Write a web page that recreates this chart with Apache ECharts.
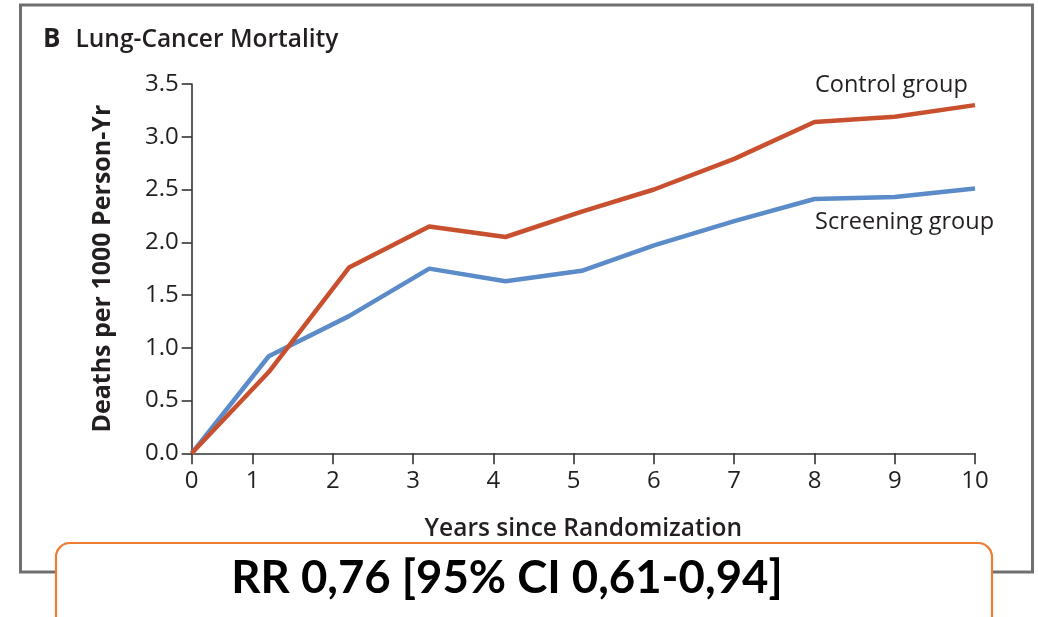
<!DOCTYPE html>
<html>
<head>
<meta charset="utf-8">
<script src="https://cdn.jsdelivr.net/npm/echarts@6/dist/echarts.min.js"></script>
<style>
html,body{margin:0;padding:0;background:#fff;}
#chart{width:1038px;height:617px;}
</style>
</head>
<body>
<div id="chart"></div>
<script>
// ---- data ----
const years = [0, 1.2, 2.2, 3.2, 4.15, 5.1, 6, 7, 8, 9, 10];
const screening = [0, 0.92, 1.30, 1.75, 1.63, 1.73, 1.97, 2.20, 2.41, 2.43, 2.51];
const control   = [0, 0.77, 1.76, 2.15, 2.05, 2.29, 2.50, 2.79, 3.14, 3.19, 3.30];
const xTicks = [0, 1, 2, 3, 4, 5, 6, 7, 8, 9, 10];
const titleText = 'Lung-Cancer Mortality';
const panelLetter = 'B';
const yName = 'Deaths per 1000 Person-Yr';
const xName = 'Years since Randomization';
const seriesNames = ['Screening group', 'Control group'];
const rrText = 'RR 0,76 [95% CI 0,61-0,94]';

// the published figure draws its origin slightly right of the linear position of 0
const AXIS_START = 0.24;
const mapX = v => Math.max(v, AXIS_START);
const xTickVals = xTicks.map(mapX);

const FONT = '"Open Sans", Lato, sans-serif';
const TXT = '#231f20';
const chart = echarts.init(document.getElementById('chart'));
chart.setOption({
  animation: false,
  backgroundColor: '#fff',
  title: {
    text: '{b|' + panelLetter + '}   {t|' + titleText + '}',
    left: 38, top: 22,
    textStyle: {
      rich: {
        b: {fontFamily: FONT, fontWeight: 'bold', fontSize: 26, color: TXT},
        t: {fontFamily: FONT, fontWeight: 600, fontSize: 24.5, color: TXT}
      }
    }
  },
  grid: {left: 191.7, right: 63, top: 84, bottom: 163.7, containLabel: false},
  xAxis: {
    type: 'value', min: AXIS_START, max: 10,
    name: xName, nameLocation: 'middle', nameGap: 63,
    nameTextStyle: {fontFamily: FONT, fontWeight: 600, fontSize: 24.5, color: TXT},
    axisLine: {lineStyle: {color: '#333', width: 1.6}},
    axisTick: {show: true, length: 11, inside: false, customValues: xTickVals, lineStyle: {color: '#333', width: 1.6}},
    axisLabel: {customValues: xTickVals, margin: 16, fontFamily: FONT, fontSize: 24, color: TXT,
      formatter: v => { const i = xTickVals.indexOf(v); return String(i >= 0 ? xTicks[i] : Math.round(v)); }},
    splitLine: {show: false}
  },
  yAxis: {
    type: 'value', min: 0, max: 3.5, interval: 0.5,
    name: yName, nameLocation: 'middle', nameGap: 76, nameRotate: 90,
    nameTextStyle: {fontFamily: FONT, fontWeight: 'bold', fontSize: 25, color: TXT},
    axisLine: {show: true, lineStyle: {color: '#333', width: 1.6}},
    axisTick: {show: true, length: 10, inside: false, lineStyle: {color: '#333', width: 1.6}},
    axisLabel: {margin: 13, fontFamily: FONT, fontSize: 24, color: TXT, formatter: v => v.toFixed(1)},
    splitLine: {show: false}
  },
  series: [
    {name: seriesNames[0], type: 'line', symbol: 'none', z: 3,
     data: years.map((x, i) => [mapX(x), screening[i]]),
     lineStyle: {color: '#5b8bc8', width: 4.5}},
    {name: seriesNames[1], type: 'line', symbol: 'none', z: 4,
     data: years.map((x, i) => [mapX(x), control[i]]),
     lineStyle: {color: '#c9502f', width: 4.5}}
  ],
  graphic: [
    {type: 'rect', z: -10, shape: {x: 20.5, y: 5, width: 1012, height: 567},
     style: {fill: 'none', stroke: '#707070', lineWidth: 3}},
    {type: 'text', left: 815, top: 73, style: {text: seriesNames[1], fontFamily: FONT, fontSize: 23.5, fill: TXT}},
    {type: 'text', left: 815, top: 210, style: {text: seriesNames[0], fontFamily: FONT, fontSize: 23.5, fill: TXT}},
    {type: 'rect', z: 50, shape: {x: 56, y: 543, width: 936, height: 90, r: 14},
     style: {fill: '#fff', stroke: '#ee7d31', lineWidth: 2.2}},
    {type: 'text', z: 51, x: 507, y: 578,
     style: {text: rrText, fontFamily: 'Lato, sans-serif', fontWeight: 'bold', fontSize: 45.5, fill: '#000', align: 'center', verticalAlign: 'middle'}}
  ]
});
</script>
</body>
</html>
